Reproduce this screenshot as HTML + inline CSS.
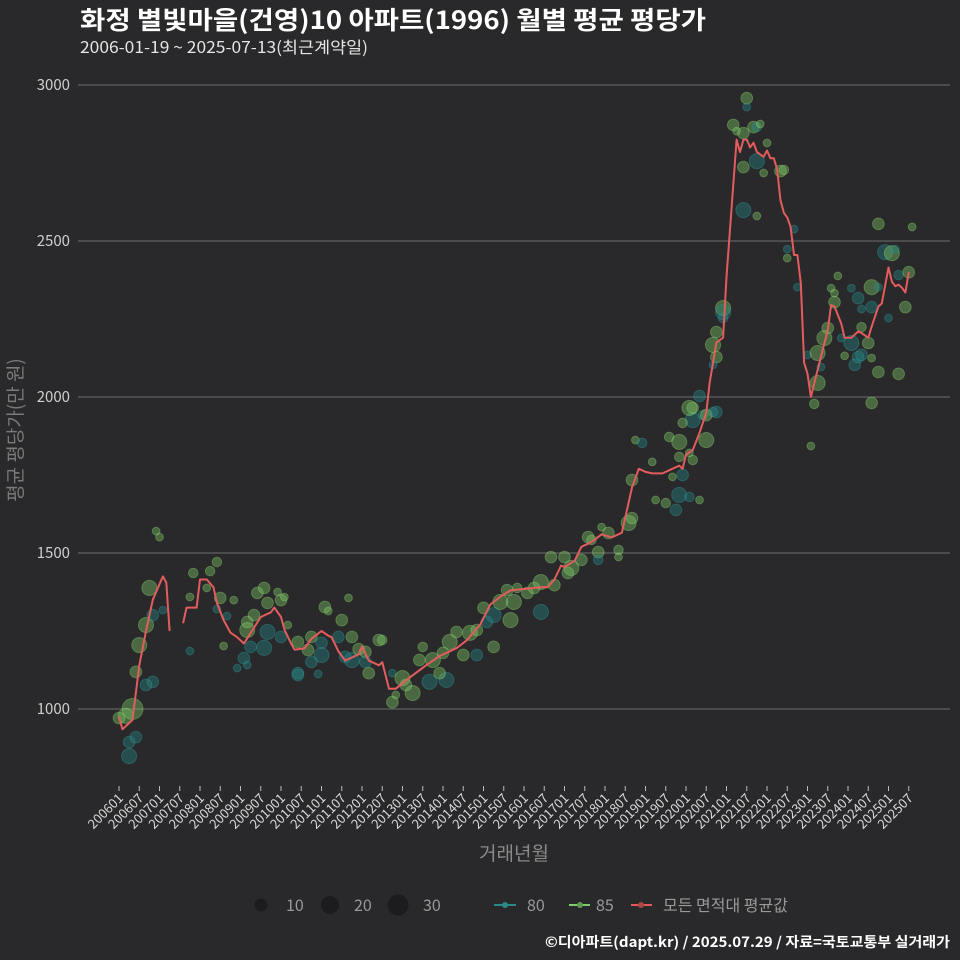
<!DOCTYPE html>
<html><head><meta charset="utf-8">
<style>
html,body{margin:0;padding:0;background:#29282a;}
svg{display:block;font-family:"Noto Sans CJK KR","Liberation Sans",sans-serif;}
</style></head>
<body>
<svg id="chart" width="960" height="960" viewBox="0 0 960 960">
<rect width="960" height="960" fill="#29282a"/>
<text x="80" y="29" fill="#ffffff" font-size="25" font-weight="bold" textLength="626" lengthAdjust="spacingAndGlyphs">화정 별빛마을(건영)10 아파트(1996) 월별 평균 평당가</text>
<text x="80" y="53" fill="#e6e6e6" font-size="16" textLength="288" lengthAdjust="spacingAndGlyphs">2006-01-19 ~ 2025-07-13(최근계약일)</text>
<g id="grid"></g>
<g id="yaxis"></g>
<g id="xaxis"></g>
<g id="bubbles"></g>
<g id="line"></g>
<text transform="translate(22,430) rotate(-90)" text-anchor="middle" fill="#7a7a7a" font-size="19">평균 평당가(만 원)</text>
<text x="514" y="860" text-anchor="middle" fill="#8a8a8a" font-size="19">거래년월</text>
<g>
  <circle cx="261" cy="905" r="6.5" fill="#1c1b1d"/>
  <text x="286" y="911" fill="#9a9a9a" font-size="16">10</text>
  <circle cx="330" cy="905" r="9" fill="#1c1b1d"/>
  <text x="354" y="911" fill="#9a9a9a" font-size="16">20</text>
  <circle cx="398" cy="905" r="10.5" fill="#1c1b1d"/>
  <text x="423" y="911" fill="#9a9a9a" font-size="16">30</text>
  <line x1="494" y1="905" x2="516" y2="905" stroke="#2a8a8a" stroke-width="2"/>
  <circle cx="505" cy="905" r="3" fill="#2a8a8a"/>
  <text x="527" y="911" fill="#9a9a9a" font-size="16">80</text>
  <line x1="569" y1="905" x2="590" y2="905" stroke="#7dcc6a" stroke-width="2"/>
  <circle cx="580" cy="905" r="3" fill="#5e9c50"/>
  <text x="596" y="911" fill="#9a9a9a" font-size="16">85</text>
  <line x1="631" y1="905" x2="652" y2="905" stroke="#e05a5a" stroke-width="2"/>
  <circle cx="641" cy="905" r="3" fill="#a84848"/>
  <text x="663" y="911" fill="#9a9a9a" font-size="16">모든 면적대 평균값</text>
</g>
<text x="950" y="947" text-anchor="end" fill="#ffffff" font-size="14" font-weight="bold" textLength="405" lengthAdjust="spacingAndGlyphs">©디아파트(dapt.kr) / 2025.07.29 / 자료=국토교통부 실거래가</text>
</svg>
<script>
// y ticks
const yTicks = [1000, 1500, 2000, 2500, 3000];
// x tick labels (every 6 months from 2006-01)
const xTickLabels = ["200601","200607","200701","200707","200801","200807","200901","200907","201001","201007","201101","201107","201201","201207","201301","201307","201401","201407","201501","201507","201601","201607","201701","201707","201801","201807","201901","201907","202001","202007","202101","202107","202201","202207","202301","202307","202401","202407","202501","202507"];
// average line: months offset from 2006-01, values (null = gap)
const lineMonths = [0,1,4,6,8,10,12,13,14,15,16,19,20,23,24,26,28,29,31,33,35,37,42,45,46,48,49,51,52,55,57,60,62,63,65,67,71,72,74,77,78,80,82,86,91,95,100,103,107,110,113,116,125,127,129,131,132,135,137,140,143,146,149,152,154,156,158,161,163,166,167,168,170,172,174,175,177,179,180,183,184,185,186,187,188,189,191,192,193,194,195,196,197,198,199,200,201,202,203,204,205,206,210,211,212,214,215,217,219,220,222,223,225,226,228,229,230,231,232,233,234];
const lineValues = [975,935,965,1140,1250,1350,1400,1425,1405,1250,null,1275,1325,1325,1415,1415,1390,1340,1285,1245,1230,1210,1295,1310,1325,1295,1255,1210,1190,1195,1225,1250,1235,1230,1185,1155,1175,1200,1155,1140,1150,1065,1065,1100,1140,1170,1195,1220,1270,1335,1360,1380,1390,1390,1415,1460,1455,1475,1520,1535,1560,1550,1565,1710,1770,1760,1755,1755,1765,1780,1770,1815,1830,1885,1950,2045,2175,2190,2385,2825,2785,2825,2825,2800,2815,2785,2770,2790,2765,2765,2730,2630,2590,2575,2545,2455,2455,2365,2110,2075,2000,2045,2215,2295,2290,2235,2190,2190,2210,2205,2190,2225,2290,2300,2415,2370,2355,2360,2350,2335,2400];
// bubbles: month offset, value, contracts, type (80 / 85)
const bMonths = [4,2,0,3,3,5,5,6,8,9,10,10,8,11,12,13,22,27,29,26,21,21,31,29,30,34,32,38,40,41,43,44,48,47,49,38,44,43,39,37,38,35,48,50,53,53,56,57,60,60,57,61,62,68,66,69,65,67,69,71,73,74,77,73,81,82,81,59,53,78,84,87,85,92,97,89,93,90,95,96,98,100,102,104,106,106,108,111,109,111,113,116,115,117,118,121,123,125,125,129,128,132,134,133,137,139,140,142,142,145,148,148,143,151,152,152,153,155,158,159,162,165,166,169,172,164,167,163,166,166,170,169,170,170,174,173,176,167,186,186,182,183,185,188,189,190,192,185,189,191,196,197,185,189,200,198,198,201,179,179,179,177,176,177,176,172,169,174,177,204,207,208,207,206,210,209,212,213,211,212,214,215,217,218,219,220,217,219,220,220,222,223,223,223,225,225,223,225,228,227,229,230,231,233,231,234,235,205];
const bValues = [1000,978,971,894,849,910,1119,1205,1269,1388,1301,1087,1077,1570,1551,1317,1436,1442,1471,1388,1359,1186,1202,1320,1356,1349,1298,1279,1301,1372,1388,1340,1349,1375,1359,1253,1247,1196,1199,1163,1141,1131,1231,1269,1215,1115,1189,1231,1212,1173,1151,1327,1314,1356,1285,1231,1231,1167,1157,1192,1183,1115,1221,1151,1115,1045,1022,1112,1109,1221,1099,1051,1077,1087,1093,1157,1157,1199,1115,1180,1215,1247,1173,1244,1253,1173,1324,1199,1279,1301,1343,1285,1381,1343,1388,1372,1388,1407,1311,1397,1487,1487,1452,1436,1478,1551,1542,1503,1478,1564,1510,1487,1583,1596,1612,1734,1862,1853,1792,1670,1660,1638,1686,1680,1670,1744,1750,1872,1856,1808,1798,1821,1926,1965,1862,1942,1952,1917,2958,2929,2872,2852,2846,2865,2865,2875,2814,2737,2756,2718,2724,2728,2599,2580,2538,2474,2445,2352,2285,2272,2253,2208,2167,2128,2103,2003,1965,1942,1952,2135,2141,2096,2045,1978,2221,2189,2304,2388,2349,2333,2189,2132,2173,2103,2128,2135,2349,2317,2282,2224,2173,2125,2288,2352,2352,2080,1981,2555,2253,2464,2461,2474,2074,2288,2391,2400,2545,1843];
const bCounts = [29,15,9,9,15,9,9,15,15,15,9,9,9,4,4,4,6,6,6,4,4,4,4,4,9,4,4,9,9,9,9,9,9,4,4,15,15,15,9,9,4,4,9,4,9,9,9,9,9,15,9,9,4,4,9,9,9,9,15,9,9,9,9,9,4,4,9,4,9,6,15,15,9,15,15,9,15,6,9,9,15,9,9,15,9,9,9,9,9,15,15,15,9,15,6,9,9,15,15,9,9,9,15,9,9,9,6,9,6,9,6,4,4,15,9,9,4,6,4,4,6,9,15,6,4,4,9,6,15,6,6,4,15,9,15,6,6,6,9,4,9,4,9,9,6,4,4,9,15,4,9,6,15,4,4,4,4,4,15,15,6,9,15,9,4,9,15,9,9,4,15,4,15,6,9,15,9,4,4,4,4,4,15,9,9,9,4,9,4,6,9,4,9,15,4,9,9,9,4,15,15,4,9,9,6,9,4,4,9,15,4,4];
const bTypes = [85,85,85,80,80,80,85,85,85,85,80,80,80,85,85,80,85,85,85,85,85,80,85,80,85,85,80,85,85,85,85,85,85,85,85,85,80,80,80,80,80,80,80,85,85,80,85,85,80,80,80,85,85,85,85,85,80,80,80,85,85,85,85,80,80,85,85,80,80,85,85,85,85,80,80,85,85,85,85,85,85,85,85,85,85,80,85,85,80,80,85,85,85,85,85,85,85,85,80,85,85,85,85,85,85,85,85,85,80,85,85,85,85,85,85,85,85,80,85,85,85,80,80,80,85,85,80,85,85,85,85,85,80,85,85,80,80,85,85,80,85,85,85,85,80,85,85,85,80,85,85,85,80,85,80,80,85,80,85,80,80,85,85,85,80,80,85,85,80,80,85,80,85,85,85,85,85,85,85,85,80,85,80,80,80,80,80,80,80,85,85,85,80,85,80,85,85,85,80,80,85,80,85,85,80,85,85,85,85,85,85];

const NS = "http://www.w3.org/2000/svg";
const X0 = 119, DX = 3.375;
function xScale(m){ return X0 + m*DX; }
function yScale(v){ return 709 - (v-1000)*0.312; }
function mk(tag, attrs, parent){ const e=document.createElementNS(NS,tag); for(const k in attrs) e.setAttribute(k,attrs[k]); parent.appendChild(e); return e; }

const grid=document.getElementById('grid'), yax=document.getElementById('yaxis'), xax=document.getElementById('xaxis');
yTicks.forEach(t=>{
  const l=mk('line',{x1:78,x2:950,y1:yScale(t),y2:yScale(t),stroke:'#6e6e6e','stroke-width':1},grid);
  
  
  const tx=mk('text',{x:70,y:yScale(t)+5,'text-anchor':'end',fill:'#cfcfcf','font-size':15},yax);
  tx.textContent=t;
  
  
});
xTickLabels.forEach((lab,i)=>{
  const x=xScale(i*6);
  const tk=mk('line',{x1:x,x2:x,y1:786,y2:791,stroke:'#bbbbbb','stroke-width':1},xax);
  
  
  const tx=mk('text',{transform:`translate(${x+5},799) rotate(-45)`,'text-anchor':'end',fill:'#d8d8d8','font-size':13},xax);
  tx.textContent=lab;
  
  
});
const bg=document.getElementById('bubbles');
bMonths.forEach((m,i)=>{
  const is80=bTypes[i]===80;
  const c=mk('circle',{cx:xScale(m),cy:yScale(bValues[i]),r:1.95*Math.sqrt(bCounts[i]),
    fill:is80?'rgba(38,135,135,0.4)':'rgba(125,200,100,0.4)',
    stroke:is80?'rgba(50,160,160,0.35)':'rgba(150,220,120,0.35)','stroke-width':1},bg);
  
  
});
const lg=document.getElementById('line');
let segs=[], cur=[];
lineMonths.forEach((m,i)=>{
  if(lineValues[i]===null){ if(cur.length) segs.push(cur); cur=[]; }
  else cur.push(xScale(m).toFixed(1)+','+yScale(lineValues[i]).toFixed(1));
});
if(cur.length) segs.push(cur);
segs.forEach(s=>{
  const p=mk('polyline',{points:s.join(' '),fill:'none',stroke:'#e35d5d','stroke-width':2,'stroke-linejoin':'round'},lg);
  
  
});
</script>
</body></html>
